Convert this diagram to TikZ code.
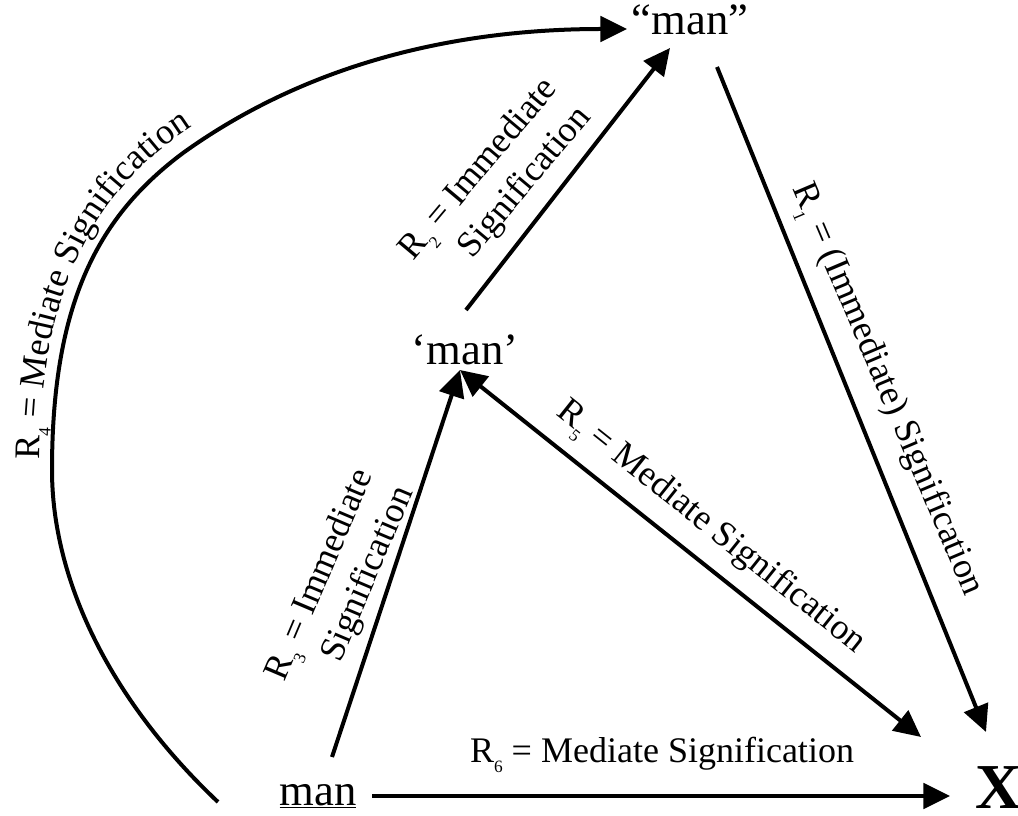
\documentclass[tikz,border=0pt]{standalone}
\usepackage{fontspec}
\setmainfont{Liberation Serif}
\usetikzlibrary{arrows.meta,decorations.text}
\newcommand\rsub[1]{\raisebox{-0.28em}{\fontsize{13}{13}\selectfont #1}}
\begin{document}
\begin{tikzpicture}[x=0.75pt,y=-0.75pt,
  word/.style={font=\fontsize{33.5}{40}\selectfont, inner sep=0pt},
  lab/.style={font=\fontsize{27}{33}\selectfont, inner sep=0pt, align=right},
  arr/.style={line width=3pt, -{Triangle[length=20pt,width=19pt]}},
  darr/.style={line width=3pt, {Triangle[length=20pt,width=19pt]}-{Triangle[length=20pt,width=19pt]}}
  ]
\useasboundingbox (0,0) rectangle (1018,816);
% nodes
\node[word,anchor=base] (top) at (690,35) {“man”};
\node[word,anchor=base] (mid) at (465,365) {‘man’};
\node[word,anchor=base] (bot) at (318,805) {\underline{man}};
\node[font=\fontsize{48}{56}\selectfont\bfseries, inner sep=0pt, anchor=base west] (X) at (975,808) {X};
% connectors
\draw[arr] ([shift={(54,-9)}]bot.base) -- ([shift={(-25,-12)}]X.base west);
\draw[arr] ([shift={(14,-48)}]bot.base) -- ([shift={(-5,5)}]mid.base);
\draw[darr] ([shift={(-5,5)}]mid.base) -- ([shift={(-54,-71)}]X.base west);
\draw[arr] ([shift={(1,-55)}]mid.base) -- ([shift={(-20,13)}]top.base);
\draw[arr] ([shift={(27,32)}]top.base) -- ([shift={(11,-76)}]X.base west);
\draw[arr] ([shift={(-100,-3)}]bot.base) .. controls (110,700) and (52,580) .. (52,470)
  .. controls (52,300) and (100,215) .. (183,153)
  .. controls (304,66) and (450,29) .. ([shift={(-63,-6)}]top.base);
% labels
\node[lab, rotate=50] (l2) at (496,184) {R\rsub{2} = Immediate\\Signification};
\node[lab, rotate=67] (l3) at (341,584) {R\rsub{3} = Immediate\\Signification};
\node[lab, rotate=-67] (l1) at (886,390) {R\rsub{1} = (Immediate) Signification};
\node[lab, rotate=-38.6] (l5) at (710,528) {R\rsub{5} = Mediate Signification};
\node[lab] (l6) at (662,755) {R\rsub{6} = Mediate Signification};
\path[decorate, decoration={text along path, text align=left,
  text={|\fontsize{27}{33}\selectfont|R{\rsub{4}} = Mediate Signification}}]
  (40,460) .. controls (40,295) and (92,200) .. (176,138)
  .. controls (297,52) and (450,17) .. (627,17);
\end{tikzpicture}
\end{document}
